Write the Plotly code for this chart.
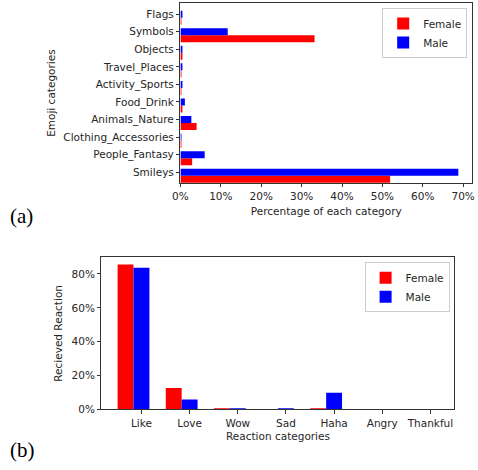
import plotly.graph_objects as go

emoji_categories = ["Smileys", "People_Fantasy", "Clothing_Accessories", "Animals_Nature",
                    "Food_Drink", "Activity_Sports", "Travel_Places", "Objects", "Symbols", "Flags"]
emoji_female = [51.9, 2.9, 0.1, 4.0, 0.3, 0.2, 0.1, 0.5, 33.2, 0.1]
emoji_male = [68.8, 6.0, 0.2, 2.7, 1.1, 0.4, 0.3, 0.3, 11.7, 0.3]

reaction_categories = ["Like", "Love", "Wow", "Sad", "Haha", "Angry", "Thankful"]
reaction_female = [85.6, 12.6, 0.6, 0.0, 0.6, 0.0, 0.0]
reaction_male = [83.7, 5.8, 0.3, 0.3, 9.9, 0.0, 0.0]

RED = "#ff0000"
BLUE = "#0000ff"
FONT = dict(family="DejaVu Sans", size=10.5, color="#262626")
LINE = "#333333"

fig = go.Figure()

# (a) horizontal bars
fig.add_trace(go.Bar(y=emoji_categories, x=emoji_female, orientation="h", name="Female",
                     marker=dict(color=RED, line=dict(width=0)), width=0.4, offset=-0.6,
                     xaxis="x", yaxis="y", legend="legend"))
fig.add_trace(go.Bar(y=emoji_categories, x=emoji_male, orientation="h", name="Male",
                     marker=dict(color=BLUE, line=dict(width=0)), width=0.4, offset=-0.2,
                     xaxis="x", yaxis="y", legend="legend"))

# (b) vertical bars
fig.add_trace(go.Bar(x=reaction_categories, y=reaction_female, name="Female",
                     marker=dict(color=RED, line=dict(width=0)), width=0.33, offset=-0.495,
                     xaxis="x2", yaxis="y2", legend="legend2"))
fig.add_trace(go.Bar(x=reaction_categories, y=reaction_male, name="Male",
                     marker=dict(color=BLUE, line=dict(width=0)), width=0.33, offset=-0.165,
                     xaxis="x2", yaxis="y2", legend="legend2"))

axis_common = dict(showline=True, linecolor=LINE, linewidth=1, mirror=True,
                   ticks="outside", ticklen=3.5, tickcolor=LINE, tickwidth=1,
                   showgrid=False, zeroline=False, tickfont=FONT)

legend_font = dict(family="DejaVu Sans", size=10.5, color="#262626")

fig.update_layout(
    width=478, height=470,
    margin=dict(l=0, r=0, t=0, b=0),
    paper_bgcolor="white", plot_bgcolor="white",
    font=FONT,
    barmode="overlay",
    xaxis=dict(domain=[176.5 / 478, 475 / 478], anchor="y", range=[0, 72.2],
               tick0=0, dtick=10, ticksuffix="%",
               title=dict(text="Percentage of each category", font=FONT, standoff=6),
               **axis_common),
    yaxis=dict(domain=[1 - 185.3 / 470, 1 - 3.3 / 470], anchor="x", type="category",
               range=[-0.61, 9.62],
               title=dict(text="Emoji categories", font=FONT, standoff=5),
               **axis_common),
    xaxis2=dict(domain=[95.7 / 478, 457 / 478], anchor="y2", type="category",
                range=[-0.83, 6.5],
                title=dict(text="Reaction categories", font=FONT, standoff=5),
                **axis_common),
    yaxis2=dict(domain=[1 - 414.7 / 470, 1 - 260.7 / 470], anchor="x2", range=[0, 89.8],
                tick0=0, dtick=20, ticksuffix="%",
                title=dict(text="Recieved Reaction", font=FONT, standoff=6),
                **axis_common),
    legend=dict(x=470 / 478, y=1 - 8 / 470, xanchor="right", yanchor="top",
                bordercolor="#cccccc", borderwidth=1, bgcolor="rgba(255,255,255,0.8)",
                font=legend_font, itemwidth=30, tracegroupgap=0),
    legend2=dict(x=452 / 478, y=1 - 265.7 / 470, xanchor="right", yanchor="top",
                 bordercolor="#cccccc", borderwidth=1, bgcolor="rgba(255,255,255,0.8)",
                 font=legend_font, itemwidth=30, tracegroupgap=0),
    annotations=[
        dict(text="(a)", x=0, y=1 - 219 / 470, xref="paper", yref="paper",
             xanchor="left", yanchor="middle", showarrow=False,
             font=dict(family="Liberation Serif", size=21, color="black")),
        dict(text="(b)", x=0, y=1 - 456 / 470, xref="paper", yref="paper",
             xanchor="left", yanchor="middle", showarrow=False,
             font=dict(family="Liberation Serif", size=21, color="black")),
    ],
)

fig.write_html("out.html", config={"displayModeBar": False},
               post_script="document.body.style.margin='0';document.body.style.padding='0';document.body.style.overflow='hidden';")
